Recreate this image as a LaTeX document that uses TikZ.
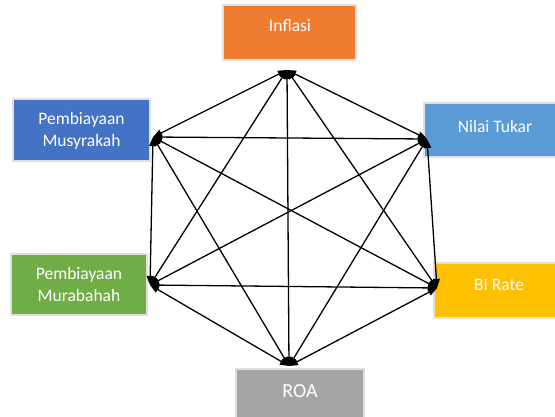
\documentclass[tikz,border=0pt]{standalone}
\usepackage{fontspec}
\setmainfont{Carlito}
\usetikzlibrary{arrows.meta}
\definecolor{cOrange}{HTML}{ED7D31}
\definecolor{cLBlue}{HTML}{5B9BD5}
\definecolor{cYellow}{HTML}{FFC000}
\definecolor{cGray}{HTML}{A5A5A5}
\definecolor{cGreen}{HTML}{70AD47}
\definecolor{cBlue}{HTML}{4472C4}
\tikzset{
  box/.style={draw=black!12, line width=1.5pt, text=white, inner sep=0pt, align=center},
  lbl/.style={text=white, align=center, font=\fontsize{17.5}{19}\selectfont},
  lbltwo/.style={text=white, align=center, font=\fontsize{17.5}{22}\selectfont},
  lblroa/.style={text=white, align=center, font=\fontsize{20}{22}\selectfont},
  link/.style={line width=1.3pt, {Triangle[length=9pt,width=7pt]}-{Triangle[length=9pt,width=7pt]}}
}
\begin{document}
\begin{tikzpicture}[x=1pt,y=-1pt]
\useasboundingbox (0,0) rectangle (555,416);
\fill[white] (0,0) rectangle (555,416);
\begin{scope}
\clip (0,0) rectangle (555,416);
\draw[box, fill=cOrange] (223,5) rectangle (356,60);
\node[lbl] (inflasi) at (290,26) {Inflasi};
\draw[box, fill=cLBlue] (424,103) rectangle (562,157);
\node[lbl] (nilai) at (495,126) {Nilai Tukar};
\draw[box, fill=cYellow] (434,263) rectangle (562,318);
\node[lbl] (birate) at (499,285) {BI Rate};
\draw[box, fill=cGray] (236,369) rectangle (364,425);
\node[lblroa] (roa) at (300,391) {ROA};
\draw[box, fill=cGreen] (11,254) rectangle (147,315);
\node[lbltwo] (murabahah) at (79,284) {Pembiayaan\\Murabahah};
\draw[box, fill=cBlue] (13,99) rectangle (150,161);
\node[lbltwo] (musyrakah) at (81.5,131) {Pembiayaan\\Musyrakah};
\end{scope}
\coordinate (T) at (287,70);
\coordinate (UR) at (427,139);
\coordinate (LR) at (437,288);
\coordinate (B) at (289,366);
\coordinate (LL) at (150,285);
\coordinate (UL) at (153,137);
\foreach \a/\b in {T/UR,T/LR,T/B,T/LL,T/UL,UR/LR,UR/B,UR/LL,UR/UL,LR/B,LR/LL,LR/UL,B/LL,B/UL,LL/UL}
  \draw[link] (\a) -- (\b);
\end{tikzpicture}
\end{document}
